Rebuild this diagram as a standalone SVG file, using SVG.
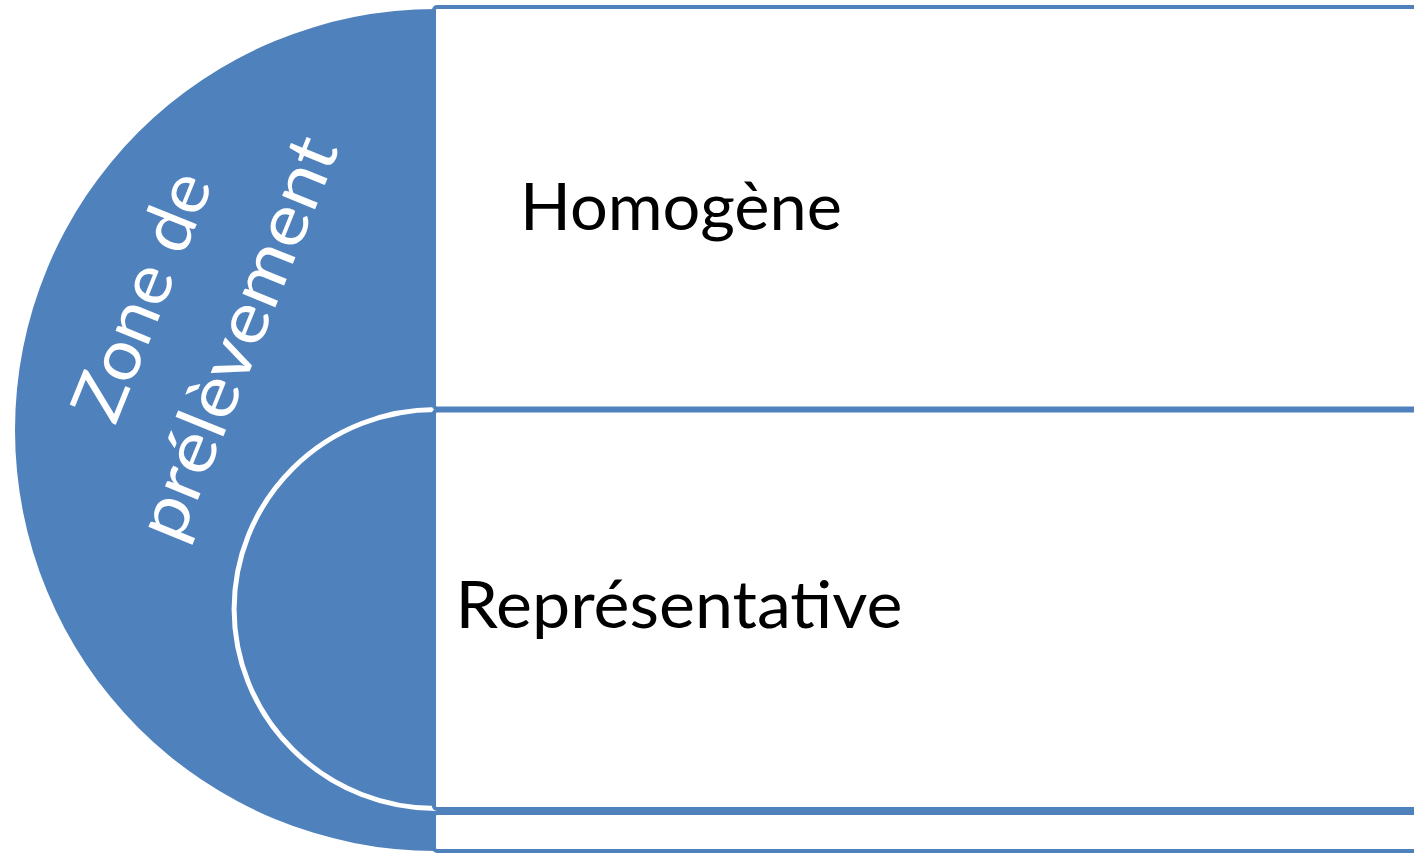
<svg xmlns="http://www.w3.org/2000/svg" width="1414" height="853" viewBox="0 0 1414 853">
  <style>
    .blue { fill: #4F81BD; }
    .box { fill: #FFFFFF; stroke: #4F81BD; stroke-width: 4; }
    .lbl { font-family: Lato, "Open Sans", "Liberation Sans", sans-serif; font-size: 65px; fill: #000000; }
    .rot { font-family: Lato, "Open Sans", "Liberation Sans", sans-serif; font-size: 70px; fill: #FFFFFF; text-anchor: middle; }
  </style>
  <rect x="0" y="0" width="1414" height="853" fill="#FFFFFF"/>
  <g id="zone">
    <path class="blue" d="M 436 9 A 421 421 0 0 0 436 851 Z"/>
    <path d="M 436 409.5 A 202 199.5 0 0 0 436 808.5" fill="#4F81BD" stroke="#FFFFFF" stroke-width="5"/>
    <g transform="translate(188 318) rotate(-68)">
      <text class="rot" x="3" y="-27" textLength="262" lengthAdjust="spacingAndGlyphs">Zone de</text>
      <text class="rot" x="0" y="77" textLength="428" lengthAdjust="spacingAndGlyphs">prélèvement</text>
    </g>
  </g>
  <g id="homogene">
    <rect class="box" x="434" y="7" width="1000" height="401.5" rx="3"/>
    <text class="lbl" x="520" y="229.5" textLength="322" lengthAdjust="spacingAndGlyphs">Homogène</text>
  </g>
  <g id="representative">
    <rect class="box" x="434" y="410.5" width="1000" height="398.5" rx="3"/>
    <text class="lbl" x="455.5" y="627.5" textLength="447" lengthAdjust="spacingAndGlyphs">Représentative</text>
  </g>
  <g id="bottom">
    <rect class="box" x="434" y="813" width="1000" height="38" rx="3"/>
  </g>
  <g id="connectors"></g>
</svg>
